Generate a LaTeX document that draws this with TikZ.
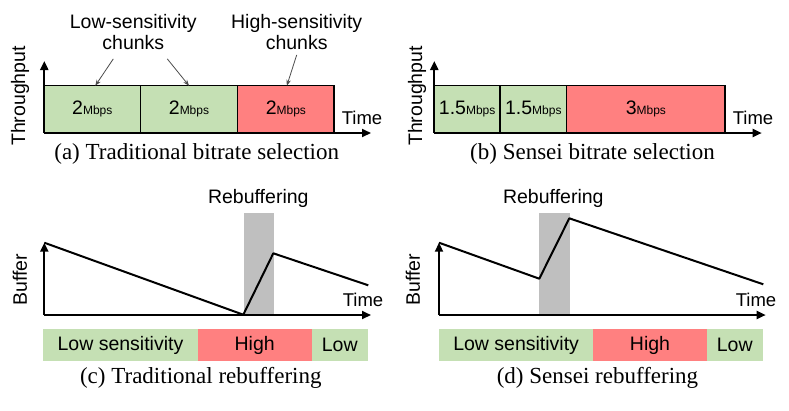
\documentclass[tikz,border=0pt]{standalone}
\usepackage{fontspec}
\setmainfont{Liberation Serif}
\setsansfont{Liberation Sans}
\usetikzlibrary{arrows.meta,positioning}
\definecolor{lowgreen}{RGB}{197,224,180}
\definecolor{highred}{RGB}{255,128,128}
\definecolor{rebufgray}{RGB}{191,191,191}
\newcommand{\rate}[1]{#1{\fontsize{12}{12}\selectfont Mbps}}
\tikzset{
  axis/.style={line width=2pt, -{Triangle[length=9pt,width=8pt]}},
  curve/.style={line width=2pt, line join=round},
  lbl/.style={font=\sffamily\fontsize{19.5}{21}\selectfont, align=center},
  timelbl/.style={anchor=base, font=\sffamily\fontsize{18.5}{20}\selectfont},
  chunk/.style={draw, line width=1.4pt, inner sep=0pt, outer sep=0pt, minimum height=46.6pt, font=\sffamily\fontsize{19.5}{20}\selectfont},
  bar/.style={inner sep=0pt, outer sep=0pt, minimum height=31.4pt, font=\sffamily\fontsize{19.5}{20}\selectfont},
  pointer/.style={draw=black!70, line width=0.8pt, -{Stealth[length=6pt,width=4.5pt]}},
  caption/.style={anchor=base, font=\fontsize{23}{23}\selectfont},
}
\begin{document}
\begin{tikzpicture}[x=1pt,y=-1pt]
\useasboundingbox (0,0) rectangle (789,410);

\node[chunk, fill=lowgreen, minimum width=96pt, anchor=west] (a1) at (44.3,109) {\rate{2}};
\node[chunk, fill=lowgreen, minimum width=97.4pt, right=0pt of a1] (a2) {\rate{2}};
\node[chunk, fill=highred, minimum width=96.3pt, right=0pt of a2] (a3) {\rate{2}};
\draw[axis] (44.3,133) -- (44.3,61);
\draw[axis] (44.3,133) -- (371,133);
\node[lbl, rotate=90] (tputa) at (20,96) {Throughput};
\node[timelbl] (timea) at (362,124) {Time};
\node[lbl] (lowlbl) at (133.3,31.7) {Low-sensitivity\\chunks};
\node[lbl] (highlbl) at (296.7,31.7) {High-sensitivity\\chunks};
\draw[pointer] ([xshift=-20pt,yshift=-6pt]lowlbl.south) -- ([xshift=3pt]a1.north);
\draw[pointer] ([xshift=34pt,yshift=-6pt]lowlbl.south) -- (a2.north);
\draw[pointer] ([yshift=-2pt]highlbl.south) -- ([xshift=1pt]a3.north);
\node[caption] (capa) at (196.7,159) {(a) Traditional bitrate selection};

\node[chunk, fill=lowgreen, minimum width=65.7pt, anchor=west] (b1) at (434.3,109) {\rate{1.5}};
\node[chunk, fill=lowgreen, minimum width=66.7pt, right=0pt of b1] (b2) {\rate{1.5}};
\node[chunk, fill=highred, minimum width=158.3pt, right=0pt of b2] (b3) {\rate{3}};
\draw[axis] (434.3,133) -- (434.3,61);
\draw[axis] (434.3,133) -- (761.7,133);
\node[lbl, rotate=90] (tputb) at (417,96) {Throughput};
\node[timelbl] (timeb) at (753,124) {Time};
\node[caption] (capb) at (592.5,159) {(b) Sensei bitrate selection};

\fill[rebufgray] (244.3,213.3) rectangle (274,315);
\node[lbl, anchor=base] (rebufc) at (258.3,203.3) {Rebuffering};
\draw[curve] (44.3,242.7) -- (243.3,314.7) -- (273.3,253.3) -- (368.3,285.3);
\draw[axis] (44.3,315) -- (44.3,242.7);
\draw[axis] (44.3,315) -- (371,315);
\node[lbl, rotate=90] (bufc) at (20,280) {Buffer};
\node[timelbl] (timec) at (363,306.7) {Time};
\node[bar, fill=lowgreen, minimum width=154.4pt, anchor=west] (c1) at (43.3,345) {Low sensitivity};
\node[bar, fill=highred, minimum width=114pt, right=0pt of c1] (c2) {High};
\node[bar, fill=lowgreen, minimum width=56pt, right=0pt of c2] (c3) {Low};
\node[caption] (capc) at (200.8,383.3) {(c) Traditional rebuffering};

\fill[rebufgray] (539.3,213.3) rectangle (570,315);
\node[lbl, anchor=base] (rebufd) at (553.3,203.3) {Rebuffering};
\draw[curve] (439,242.7) -- (539.3,278.7) -- (569.3,218.3) -- (763.3,284.3);
\draw[axis] (439,315) -- (439,242.7);
\draw[axis] (439,315) -- (765.7,315);
\node[lbl, rotate=90] (bufd) at (413,280) {Buffer};
\node[timelbl] (timed) at (756,306.7) {Time};
\node[bar, fill=lowgreen, minimum width=154.3pt, anchor=west] (d1) at (439,345) {Low sensitivity};
\node[bar, fill=highred, minimum width=113.4pt, right=0pt of d1] (d2) {High};
\node[bar, fill=lowgreen, minimum width=56pt, right=0pt of d2] (d3) {Low};
\node[caption] (capd) at (597.5,383.3) {(d) Sensei rebuffering};
\end{tikzpicture}
\end{document}
